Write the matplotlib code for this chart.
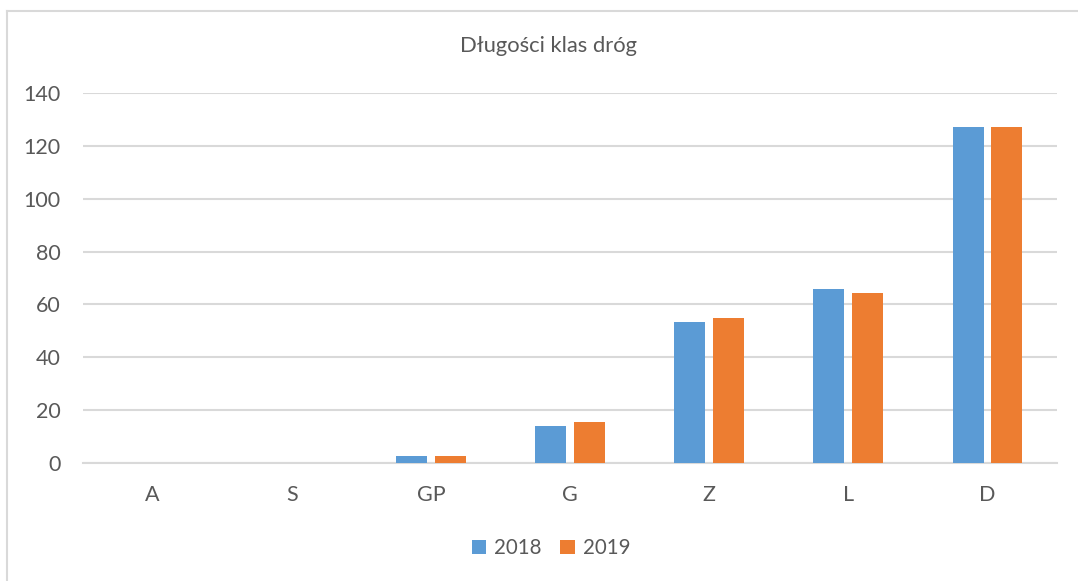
import numpy as np
import matplotlib.pyplot as plt
from matplotlib.patches import Patch
from matplotlib.lines import Line2D

plt.rcParams['font.family'] = ['Lato', 'DejaVu Sans']

categories = ['A', 'S', 'GP', 'G', 'Z', 'L', 'D']
values_2018 = [0, 0, 2.8, 13.9, 53.4, 65.9, 127.1]
values_2019 = [0, 0, 2.8, 15.4, 54.9, 64.4, 127.1]
series_names = ['2018', '2019']
yticks = [0, 20, 40, 60, 80, 100, 120, 140]

BLUE = '#5B9BD5'
ORANGE = '#ED7D31'
GRID = '#D9D9D9'
TEXT = '#595959'

fig = plt.figure(figsize=(10.78, 5.81), dpi=100)
ax = fig.add_axes([83/1078, 118/581, 974/1078, 370/581])

x = np.arange(len(categories))
w = 0.223
off = 0.139
ax.bar(x - off, values_2018, w, color=BLUE, zorder=3)
ax.bar(x + off, values_2019, w, color=ORANGE, zorder=3)

ax.set_xlim(-0.5, len(categories) - 0.5)
ax.set_ylim(0, 140)
ax.set_yticks(yticks)
ax.set_xticks(x)
ax.set_xticklabels(categories)
ax.yaxis.grid(True, color=GRID, linewidth=1.5, zorder=0)
ax.set_axisbelow(True)
for s in ['top', 'right', 'left']:
    ax.spines[s].set_visible(False)
ax.spines['bottom'].set_color(GRID)
ax.spines['bottom'].set_linewidth(1.5)
ax.tick_params(axis='y', length=0, pad=16, labelsize=15.5, labelcolor=TEXT)
ax.tick_params(axis='x', length=0, pad=16, labelsize=15.5, labelcolor=TEXT)

fig.text(548/1078, 1 - 46/581, 'Długości klas dróg', ha='center', va='center',
         fontsize=15.8, color=TEXT)

handles = [Patch(facecolor=BLUE), Patch(facecolor=ORANGE)]
fig.legend(handles, series_names, loc='center', bbox_to_anchor=(551/1078, 1 - 548/581),
           ncol=2, frameon=False, fontsize=14.8, labelcolor=TEXT,
           handlelength=0.7, handleheight=0.7, handletextpad=0.4, columnspacing=0.9)

# chart area border (only top and left are inside the picture)
fig.add_artist(Line2D([6.5/1078, 6.5/1078], [0, 1 - 10.5/581], transform=fig.transFigure,
                      color=GRID, linewidth=1.5))
fig.add_artist(Line2D([6.5/1078, 1], [1 - 10.5/581, 1 - 10.5/581], transform=fig.transFigure,
                      color=GRID, linewidth=1.5))

plt.savefig('out.png', dpi=100)
